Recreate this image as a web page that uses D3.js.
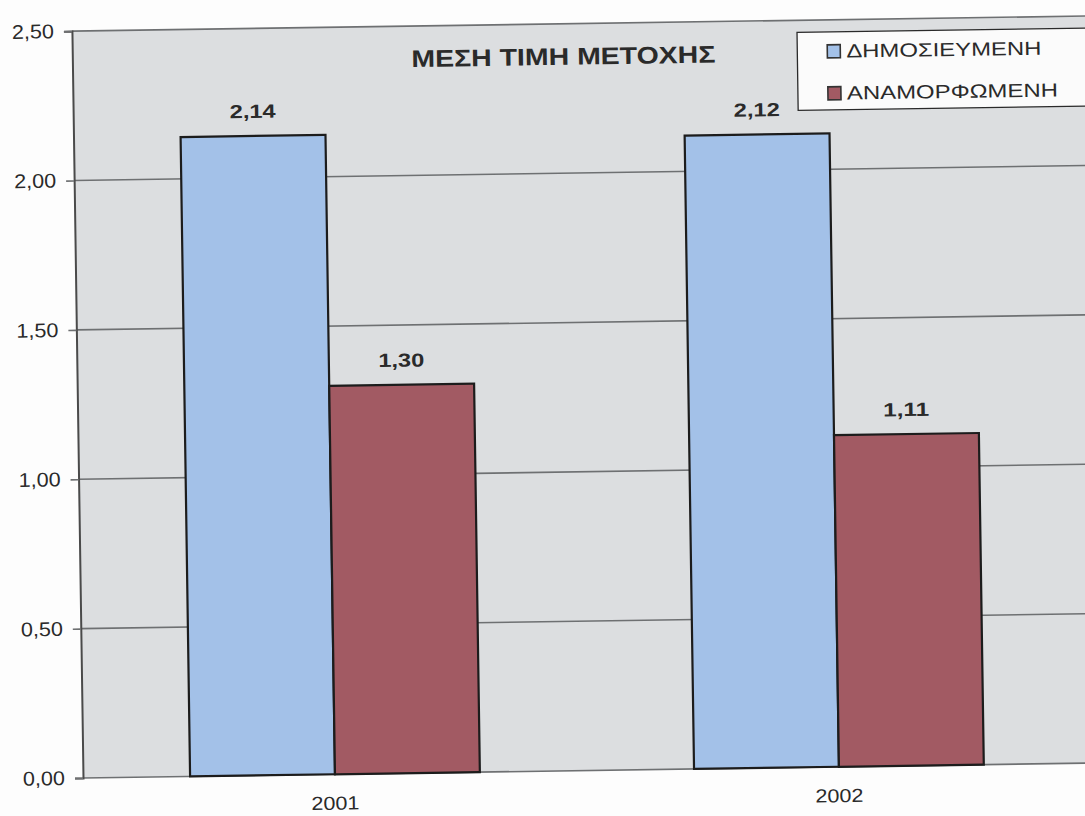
<!DOCTYPE html>
<html>
<head>
<meta charset="utf-8">
<script src="https://cdn.jsdelivr.net/npm/d3@7/dist/d3.min.js"></script>
<style>
  html, body { margin: 0; padding: 0; background: #fdfdfd; }
  svg { display: block; }
  text { font-family: "Liberation Sans", Arial, sans-serif; fill: #2a2a2a; }
</style>
</head>
<body>
<svg id="chart" width="1085" height="816"></svg>
<script>
// Average share price, published vs restated
const years = ["2001", "2002"];
const seriesNames = ["ΔΗΜΟΣΙΕΥΜΕΝΗ", "ΑΝΑΜΟΡΦΩΜΕΝΗ"];
const published = [2.14, 2.12];
const restated = [1.30, 1.11];
const yTicks = [0, 0.5, 1.0, 1.5, 2.0, 2.5];
const title = "ΜΕΣΗ ΤΙΜΗ ΜΕΤΟΧΗΣ";

const seriesValues = [published, restated];
const colors = ["#a3c1e8", "#a25a63"];
const fmt = v => d3.format(".2f")(v).replace(".", ",");

const plot = { left: 83, right: 1091, top: 31, bottom: 778 };

const svg = d3.select("#chart");
// whole figure sits slightly tilted
const g = svg.append("g").attr("transform", `rotate(-0.85, ${plot.left}, ${plot.bottom})`);

const y = d3.scaleLinear().domain([0, 2.5]).range([plot.bottom, plot.top]);
const x0 = d3.scaleBand().domain(years).range([plot.left, plot.right])
  .paddingInner(0.425).paddingOuter(0.2125);
const x1 = d3.scaleBand().domain(seriesNames).range([0, x0.bandwidth()]).padding(0);

// plot background
g.append("rect")
  .attr("x", plot.left).attr("y", plot.top)
  .attr("width", plot.right - plot.left + 20).attr("height", plot.bottom - plot.top)
  .attr("fill", "#dcdee0");

// horizontal gridlines
g.append("g").selectAll("line").data(yTicks).join("line")
  .attr("x1", plot.left).attr("x2", plot.right + 20)
  .attr("y1", d => y(d)).attr("y2", d => y(d))
  .attr("stroke", "#6e7072").attr("stroke-width", 1.6);

// y axis
const yAxis = d3.axisLeft(y).tickValues(yTicks).tickFormat(fmt).tickSize(8).tickPadding(10);
const ya = g.append("g").attr("transform", `translate(${plot.left},0)`).call(yAxis);
ya.select(".domain").attr("stroke", "#4a4a4a").attr("stroke-width", 2);
ya.selectAll(".tick line").attr("stroke", "#6e7072").attr("stroke-width", 1.6);
ya.selectAll(".tick text")
  .attr("font-size", 20).attr("fill", "#333")
  .attr("textLength", 42).attr("lengthAdjust", "spacingAndGlyphs")
  .style("font-family", "'Liberation Sans', Arial, sans-serif");

// bars
const groups = g.append("g").selectAll("g").data(years).join("g")
  .attr("transform", d => `translate(${x0(d)},0)`);

groups.selectAll("rect")
  .data((yr, i) => seriesNames.map((s, k) => ({ s, k, v: seriesValues[k][i] })))
  .join("rect")
  .attr("x", d => x1(d.s))
  .attr("y", d => y(d.v))
  .attr("width", x1.bandwidth())
  .attr("height", d => y(0) - y(d.v))
  .attr("fill", d => colors[d.k])
  .attr("stroke", "#1c1c1c").attr("stroke-width", 2.2);

groups.selectAll("text.val")
  .data((yr, i) => seriesNames.map((s, k) => ({ s, k, v: seriesValues[k][i] })))
  .join("text").attr("class", "val")
  .attr("x", d => x1(d.s) + x1.bandwidth() / 2)
  .attr("y", d => y(d.v) - 18)
  .attr("text-anchor", "middle")
  .attr("font-size", 19).attr("font-weight", "bold").attr("fill", "#333")
  .attr("textLength", 46).attr("lengthAdjust", "spacingAndGlyphs")
  .text(d => fmt(d.v));

// x axis labels
const xAxis = d3.axisBottom(x0).tickSize(0).tickPadding(22);
const xa = g.append("g").attr("transform", `translate(0,${plot.bottom})`).call(xAxis);
xa.select(".domain").remove();
xa.selectAll(".tick text")
  .attr("font-size", 19).attr("fill", "#333")
  .attr("textLength", 48).attr("lengthAdjust", "spacingAndGlyphs")
  .style("font-family", "'Liberation Sans', Arial, sans-serif");

// title
g.append("text")
  .attr("x", 574).attr("y", 72)
  .attr("text-anchor", "middle")
  .attr("font-size", 24).attr("font-weight", "bold").attr("fill", "#2a2a2a")
  .attr("textLength", 304).attr("lengthAdjust", "spacingAndGlyphs")
  .text(title);

// legend
const lg = g.append("g").attr("transform", "translate(808,43)");
lg.append("rect")
  .attr("width", 300).attr("height", 78)
  .attr("fill", "#fbfbfb").attr("stroke", "#2a2a2a").attr("stroke-width", 1.3);
const legendLengths = [195, 211];
const items = lg.selectAll("g").data(seriesNames).join("g")
  .attr("transform", (d, i) => `translate(30,${13 + i * 42})`);
items.append("rect")
  .attr("width", 13).attr("height", 13)
  .attr("fill", (d, i) => colors[i])
  .attr("stroke", "#333").attr("stroke-width", 1.6);
items.append("text")
  .attr("x", 19).attr("y", 13)
  .attr("font-size", 19).attr("fill", "#2a2a2a")
  .attr("textLength", (d, i) => legendLengths[i]).attr("lengthAdjust", "spacingAndGlyphs")
  .text(d => d);
</script>
</body>
</html>
